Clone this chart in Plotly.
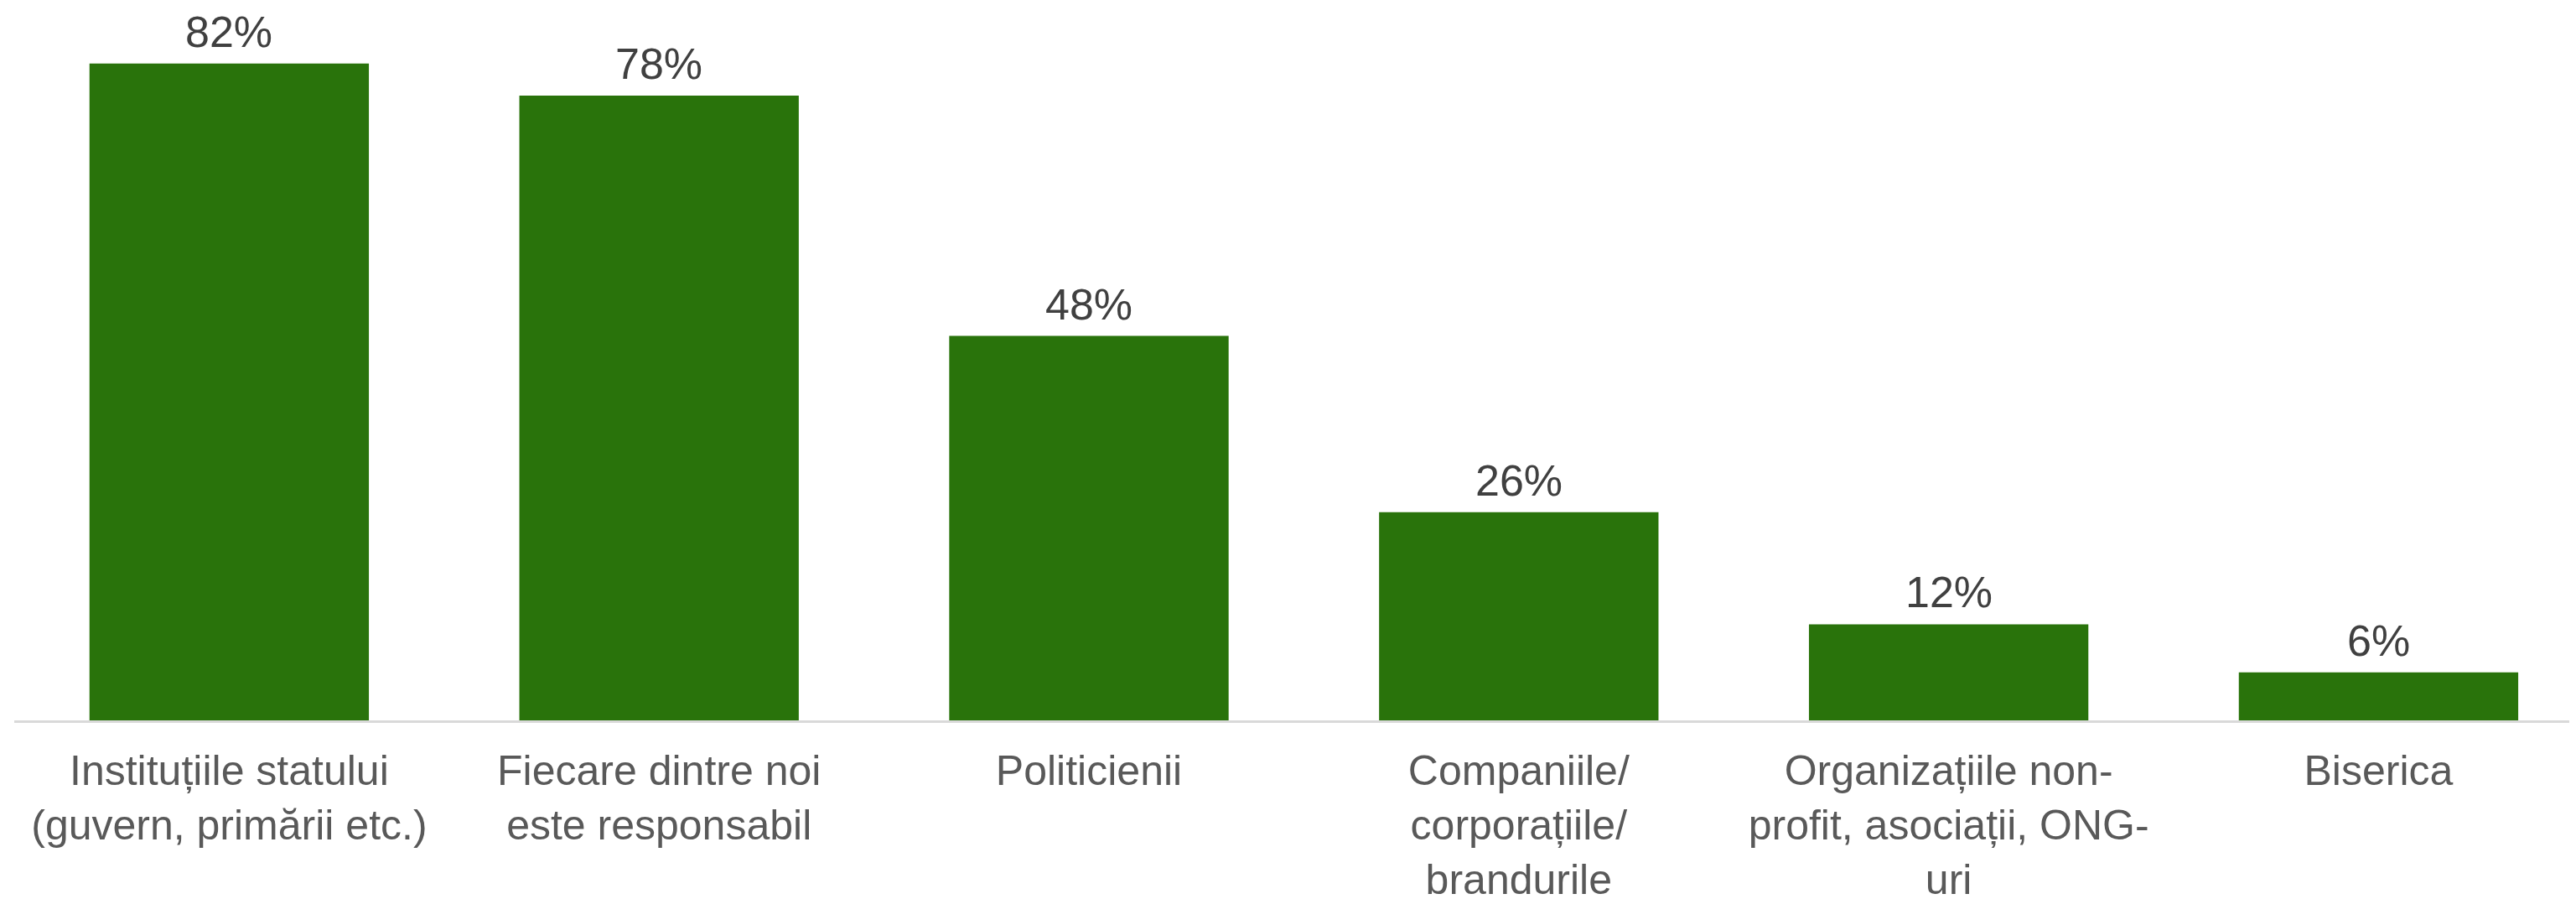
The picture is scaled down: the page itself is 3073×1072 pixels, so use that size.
import plotly.graph_objects as go

categories = [
    "Instituțiile statului<br>(guvern, primării etc.)",
    "Fiecare dintre noi<br>este responsabil",
    "Politicienii",
    "Companiile/<br>corporațiile/<br>brandurile",
    "Organizațiile non-<br>profit, asociații, ONG-<br>uri",
    "Biserica",
]
values = [82, 78, 48, 26, 12, 6]
labels = [f"{v}%" for v in values]

FONT = "Liberation Sans, Arial, sans-serif"

fig = go.Figure(
    go.Bar(
        x=categories,
        y=values,
        marker=dict(color="#29730B", line=dict(width=0)),
        width=0.65,
        cliponaxis=False,
    )
)

for c, v, t in zip(categories, values, labels):
    fig.add_annotation(
        x=c, y=v, text=t, showarrow=False, yanchor="bottom", yshift=7,
        font=dict(family=FONT, size=52, color="#404040"),
    )

fig.update_layout(
    width=3073,
    height=1072,
    margin=dict(l=9, r=0, t=0, b=221),
    paper_bgcolor="white",
    plot_bgcolor="white",
    showlegend=False,
    xaxis=dict(
        range=[-0.5, 5.475],
        automargin=False,
        showline=True,
        linecolor="#D9D9D9",
        linewidth=3,
        showgrid=False,
        ticks="outside",
        ticklen=14,
        tickcolor="rgba(0,0,0,0)",
        tickfont=dict(family=FONT, size=50, color="#595959"),
        tickangle=0,
    ),
    yaxis=dict(range=[0, 89.1], visible=False, showgrid=False, automargin=False),
)

fig.write_html("out.html")
